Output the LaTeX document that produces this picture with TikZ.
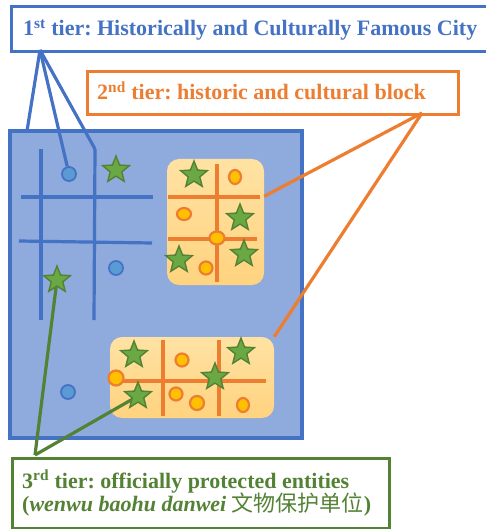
\documentclass[tikz,border=0pt]{standalone}
\usepackage{fontspec}
\setmainfont{Liberation Serif}
\newfontfamily\cjk{Noto Sans CJK SC}
\usetikzlibrary{shapes.geometric}
\definecolor{cblue}{HTML}{4472C4}
\definecolor{cfill}{HTML}{8FAADC}
\definecolor{cdot}{HTML}{5B9BD5}
\definecolor{corange}{HTML}{ED7D31}
\definecolor{cgold}{HTML}{FFC000}
\definecolor{cgreen}{HTML}{548235}
\definecolor{cstar}{HTML}{6AA843}
\definecolor{btop}{HTML}{FFE2A3}
\definecolor{bbot}{HTML}{FFD37F}
\frenchspacing
\begin{document}
\begin{tikzpicture}[x=1pt,y=-1pt,
  street/.style={cblue,line width=3.2pt},
  bstreet/.style={corange,line width=3.2pt},
  bluedot/.style={circle,draw=cblue,fill=cdot,line width=1.8pt,inner sep=0pt,minimum size=14pt},
  golddot/.style={ellipse,draw=corange,fill=cgold,line width=2.2pt,inner sep=0pt,minimum width=13pt,minimum height=13pt},
  gstar/.style={star,star points=5,star point ratio=2.3,draw=cgreen,fill=cstar,line width=1.4pt,inner sep=0pt,minimum size=28pt},
  blockbox/.style={rounded corners=12pt,top color=btop,bottom color=bbot,inner sep=0pt},
  tierbox/.style={line width=3.2pt,fill=white,inner sep=0pt,anchor=north west},
  tiertext/.style={anchor=base west,inner sep=0pt,font=\bfseries\fontsize{22}{24}\selectfont},
  bluelink/.style={cblue,line width=3.2pt},
  orangelink/.style={corange,line width=3.2pt},
  greenlink/.style={cgreen,line width=3.2pt}
]
\useasboundingbox (0,0) rectangle (486,529);
% city square
\node[draw=cblue,fill=cfill,line width=3.2pt,inner sep=0pt,minimum width=292pt,minimum height=307pt] (city) at (156,284.5) {};
% streets
\coordinate (v1t) at (41,149); \coordinate (v1b) at (41,320);
\coordinate (v2t) at (95,149); \coordinate (v2b) at (94,320);
\coordinate (h1l) at (21,197); \coordinate (h1r) at (153,197);
\coordinate (h2l) at (19,241); \coordinate (h2r) at (152,243);
\draw[street] (v1t) -- (v1b);
\draw[street] (v2t) -- (v2b);
\draw[street] (h1l) -- (h1r);
\draw[street] (h2l) -- (h2r);
% blue dots
\node[bluedot] (d1) at (69,174) {};
\node[bluedot] (d2) at (116,268) {};
\node[bluedot] (d3) at (68,392) {};
% blocks
\node[blockbox,minimum width=97pt,minimum height=126pt] (b1) at (215.5,222) {};
\node[blockbox,minimum width=164pt,minimum height=81pt] (b2) at (192,377.5) {};
% block 1 streets
\coordinate (p1t) at (217,164); \coordinate (p1b) at (217,282);
\coordinate (p2l) at (168,197); \coordinate (p2r) at (260,197);
\coordinate (p3l) at (168,239); \coordinate (p3r) at (257,239);
\draw[bstreet] (p1t) -- (p1b);
\draw[bstreet] (p2l) -- (p2r);
\draw[bstreet] (p3l) -- (p3r);
% block 2 streets
\coordinate (q1l) at (117,381); \coordinate (q1r) at (266,381);
\coordinate (q2t) at (163,340); \coordinate (q2b) at (163,416);
\coordinate (q3t) at (219,340); \coordinate (q3b) at (219,416);
\draw[bstreet] (q1l) -- (q1r);
\draw[bstreet] (q2t) -- (q2b);
\draw[bstreet] (q3t) -- (q3b);
% gold dots block 1
\node[golddot,minimum width=12pt,minimum height=14pt] (g1) at (235,177) {};
\node[golddot,minimum width=14pt,minimum height=12pt] (g2) at (184,214) {};
\node[golddot,minimum width=15pt,minimum height=13pt] (g3) at (217,238) {};
\node[golddot] (g4) at (206,268) {};
% gold dots block 2
\node[golddot,minimum width=15pt,minimum height=15pt] (g5) at (116,378) {};
\node[golddot] (g6) at (182,360) {};
\node[golddot] (g7) at (176,394) {};
\node[golddot,minimum width=14pt,minimum height=14pt] (g8) at (197,403) {};
\node[golddot,minimum width=12pt,minimum height=14pt] (g9) at (243,405) {};
% tier boxes
\node[tierbox,draw=cblue,minimum width=480pt,minimum height=45pt] (tier1) at (10,5) {};
\node[tierbox,draw=corange,minimum width=371pt,minimum height=43pt] (tier2) at (86,70) {};
\node[tierbox,draw=cgreen,minimum width=377pt,minimum height=70pt] (tier3) at (11,457) {};
\coordinate (a1) at (40,50);
\coordinate (a2) at (422,113);
\coordinate (a3) at (35,455);
\coordinate (cq) at (27,131);
% connectors
\draw[bluelink] (a1) -- (cq);
\draw[bluelink] (a1) -- (d1);
\draw[bluelink] (a1) -- (v2t);
\draw[orangelink] (a2) -- (b1);
\draw[orangelink] (a2) -- (b2.north east);
\coordinate (sA) at (57,280);
\coordinate (sJ) at (138,396);
\draw[greenlink] (a3) -- (sA);
\draw[greenlink] (a3) -- (sJ);
% stars
\node[gstar] (s1) at (116,170) {};
\node[gstar] (s2) at (sA) {};
\node[gstar] (s3) at (194,175) {};
\node[gstar] (s4) at (240,218) {};
\node[gstar] (s5) at (179,260) {};
\node[gstar] (s6) at (244,254) {};
\node[gstar] (s7) at (134,355) {};
\node[gstar] (s8) at (241,352) {};
\node[gstar] (s9) at (215,377) {};
\node[gstar] (s10) at (sJ) {};
% texts
\node[tiertext,text=cblue] (t1) at (23,36) {1\textsuperscript{st} tier: Historically and Culturally Famous City};
\node[tiertext,text=corange] (t2) at (97,100) {2\textsuperscript{nd} tier: historic and cultural block};
\node[tiertext,text=cgreen] (t3a) at (22,488) {3\textsuperscript{rd} tier: officially protected entities};
\node[tiertext,text=cgreen] (t3b) at (22,511) {(\textit{wenwu baohu danwei} {\cjk\mdseries 文物保护单位})};
\end{tikzpicture}
\end{document}
